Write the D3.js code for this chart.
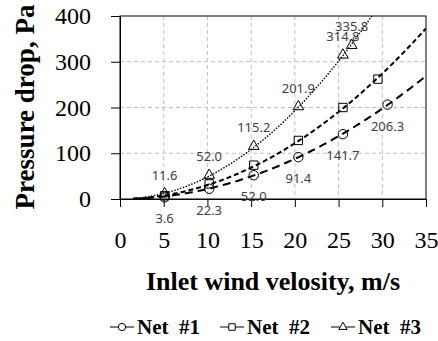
<!DOCTYPE html>
<html>
<head>
<meta charset="utf-8">
<script src="https://cdn.jsdelivr.net/npm/d3@7/dist/d3.min.js"></script>
<style>
  body { margin: 0; background: #fff; }
  svg { display: block; }
</style>
</head>
<body>
<figure id="chart" style="margin:0"></figure>
<script>
// values
const seriesNames = ["Net  #1", "Net  #2", "Net  #3"];
const net1X = [5.1, 10.2, 15.3, 20.4, 25.5, 30.6];
const net1Y = [3.6, 22.3, 52.0, 91.4, 141.7, 206.3];
const net2X = [5.1, 10.2, 15.3, 20.4, 25.5, 29.5];
const net2Y = [7, 33, 74, 128, 200, 262];
const net3X = [5.1, 10.2, 15.3, 20.4, 25.5, 26.5];
const net3Y = [11.6, 52.0, 115.2, 201.9, 314.8, 335.8];
const xTicks = [0, 5, 10, 15, 20, 25, 30, 35];
const yTicks = [0, 100, 200, 300, 400];

const serif = "'Liberation Serif', 'Times New Roman', Times, serif";
const W = 438, H = 341;
const margin = { top: 16, right: 12, bottom: 142, left: 120 };
const width = W - margin.left - margin.right;
const height = H - margin.top - margin.bottom;

const svg = d3.select("figure#chart")
  .append("svg")
  .attr("width", W)
  .attr("height", H);

const g = svg.append("g")
  .attr("transform", "translate(" + margin.left + "," + margin.top + ")");

const x = d3.scaleLinear().domain([0, 35]).range([0, width]);
const y = d3.scaleLinear().domain([0, 400]).range([height, 0]);

// grid
g.append("g").selectAll("line")
  .data(xTicks.filter(d => d > 0 && d < 35))
  .enter().append("line")
  .attr("x1", d => x(d)).attr("x2", d => x(d))
  .attr("y1", 0).attr("y2", height)
  .attr("stroke", "#c0c0c0").attr("stroke-dasharray", "4,3");
g.append("g").selectAll("line")
  .data(yTicks.filter(d => d > 0 && d < 400))
  .enter().append("line")
  .attr("y1", d => y(d)).attr("y2", d => y(d))
  .attr("x1", 0).attr("x2", width)
  .attr("stroke", "#c0c0c0").attr("stroke-dasharray", "4,3");

// frame
g.append("rect")
  .attr("width", width).attr("height", height)
  .attr("fill", "none").attr("stroke", "#000").attr("stroke-width", 1);

// axes
const xAxis = g.append("g")
  .attr("transform", "translate(0," + height + ")")
  .call(d3.axisBottom(x).tickValues(xTicks).tickSize(8).tickSizeOuter(0))
  .attr("font-family", serif)
  .attr("font-size", 24);
xAxis.selectAll("text")
  .attr("y", 49).attr("dy", 0)
  .attr("fill", "#000");

const yAxis = g.append("g")
  .call(d3.axisLeft(y).tickValues(yTicks).tickSize(9).tickSizeOuter(0))
  .attr("font-family", serif)
  .attr("font-size", 24);
yAxis.selectAll("text")
  .attr("x", -29)
  .attr("fill", "#000");
g.selectAll(".domain").attr("stroke", "#000");
g.selectAll(".tick line").attr("stroke", "#000");

// axis titles
svg.append("text")
  .attr("x", 273).attr("y", 290)
  .attr("text-anchor", "middle")
  .attr("font-family", serif)
  .attr("font-weight", "bold").attr("font-size", 26)
  .text("Inlet wind velosity, m/s");

svg.append("text")
  .attr("transform", "translate(34,107) rotate(-90)")
  .attr("text-anchor", "middle")
  .attr("font-family", serif)
  .attr("font-weight", "bold").attr("font-size", 27)
  .text("Pressure drop, Pa");

// series
const series = [
  { xs: net1X, ys: net1Y, marker: "circle", dash: "8,5", sw: 2, labelDy: 26 },
  { xs: net2X, ys: net2Y, marker: "square", dash: "5,3", sw: 2, labelDy: null },
  { xs: net3X, ys: net3Y, marker: "triangle", dash: "1.5,1.5", sw: 1.4, labelDy: -14 }
];

// least-squares trend y = a*x^2 from the points
function trendCoef(xs, ys) {
  const num = d3.sum(xs, (v, i) => v * v * ys[i]);
  const den = d3.sum(xs, v => Math.pow(v, 4));
  return num / den;
}

g.append("clipPath").attr("id", "plotClip")
  .append("rect").attr("width", width).attr("height", height);

const line = d3.line().x(d => x(d[0])).y(d => y(d[1]));
const symbolType = { circle: d3.symbolCircle, square: d3.symbolSquare, triangle: d3.symbolTriangle };
const symbolSize = { circle: 70, square: 70, triangle: 50 };

series.forEach(s => {
  const a = trendCoef(s.xs, s.ys);
  const pts = d3.range(1.5, 35.01, 0.25).map(v => [v, a * v * v]);
  g.append("path")
    .attr("clip-path", "url(#plotClip)")
    .attr("d", line(pts))
    .attr("fill", "none")
    .attr("stroke", "#000")
    .attr("stroke-width", s.sw)
    .attr("stroke-dasharray", s.dash);
});

series.forEach(s => {
  const data = s.xs.map((v, i) => [v, s.ys[i]]);
  g.append("g").selectAll("path")
    .data(data)
    .enter().append("path")
    .attr("transform", d => "translate(" + x(d[0]) + "," + y(d[1]) + ")")
    .attr("d", d3.symbol().type(symbolType[s.marker]).size(symbolSize[s.marker]))
    .attr("fill", "none")
    .attr("stroke", "#000")
    .attr("stroke-width", 1);

  if (s.labelDy !== null) {
    g.append("g").selectAll("text")
      .data(data)
      .enter().append("text")
      .attr("x", d => x(d[0]))
      .attr("y", d => y(d[1]) + s.labelDy)
      .attr("text-anchor", "middle")
      .attr("font-family", "'Noto Sans', 'Open Sans', sans-serif")
      .attr("font-size", 13)
      .attr("fill", "#404040")
      .text(d => d[1].toFixed(1));
  }
});

// legend
const legendX = [110, 220, 331];
series.forEach((s, i) => {
  const lg = svg.append("g").attr("transform", "translate(" + legendX[i] + ",327)");
  lg.append("line").attr("x1", 0).attr("x2", 24).attr("stroke", "#000").attr("stroke-width", 1);
  lg.append("path")
    .attr("transform", "translate(12,0)")
    .attr("d", d3.symbol().type(symbolType[s.marker]).size(symbolSize[s.marker] * 0.6))
    .attr("fill", "#fff").attr("stroke", "#000");
  lg.append("text")
    .attr("x", 27).attr("y", 7)
    .attr("xml:space", "preserve")
    .style("white-space", "pre")
    .attr("font-family", serif)
    .attr("font-weight", "bold").attr("font-size", 21)
    .text(seriesNames[i]);
});
</script>
</body>
</html>
